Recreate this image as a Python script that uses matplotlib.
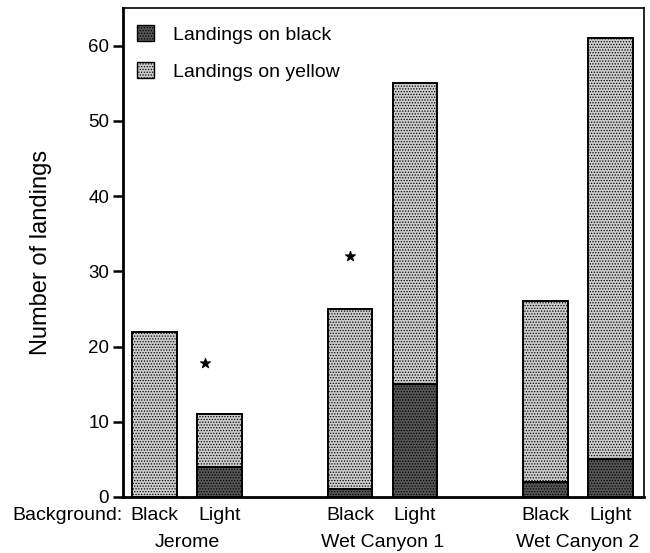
import numpy as np
import matplotlib
matplotlib.use("Agg")
import matplotlib.pyplot as plt
from matplotlib.patches import Patch
from matplotlib.transforms import blended_transform_factory

plt.rcParams["font.family"] = ["Liberation Sans", "DejaVu Sans"]
plt.rcParams["hatch.linewidth"] = 0.6

# data
sites = ["Jerome", "Wet Canyon 1", "Wet Canyon 2"]
backgrounds = ["Black", "Light", "Black", "Light", "Black", "Light"]
on_black = [0, 4, 1, 15, 2, 5]
on_yellow = [22, 7, 24, 40, 24, 56]
star_x = [0.77, 3.0]
star_y = [17.8, 32.0]

positions = np.array([0.0, 1.0, 3.0, 4.0, 6.0, 7.0])
width = 0.69

fig = plt.figure(figsize=(6.5, 5.53), dpi=100)
ax = fig.add_axes([0.1892, 0.1013, 0.8015, 0.884])

dark = "#555555"
light = "#cdcdcd"

plt.rcParams["hatch.color"] = "#1e1e1e"
ax.bar(positions, on_black, width, color=dark, edgecolor="black",
       linewidth=1.4, hatch="......")
plt.rcParams["hatch.color"] = "#8a8a8a"
ax.bar(positions, on_yellow, width, bottom=on_black, color=light,
       edgecolor="black", linewidth=1.4, hatch="......")

ax.scatter(star_x, star_y, marker="*", s=55, color="black", linewidths=0.8)

ax.set_xlim(-0.49, 7.52)
ax.set_ylim(0, 65)
ax.set_yticks(range(0, 61, 10))
ax.set_xticks([])
ax.tick_params(axis="y", direction="out", length=7, width=1.8, labelsize=13.5, pad=3)
for side in ["left", "bottom"]:
    ax.spines[side].set_linewidth(2)
for side in ["top", "right"]:
    ax.spines[side].set_linewidth(1.2)

ax.set_ylabel("Number of landings", fontsize=17)
ax.yaxis.set_label_coords(-0.136, 0.5)

trans = blended_transform_factory(ax.transData, ax.transAxes)
ax.text(-0.5, -0.037, "Background:", transform=trans, ha="right", va="center", fontsize=14)
for x, lab in zip(positions, backgrounds):
    ax.text(x, -0.037, lab, transform=trans, ha="center", va="center", fontsize=14)
for i, site in enumerate(sites):
    xc = positions[2 * i:2 * i + 2].mean()
    ax.text(xc, -0.094, site, transform=trans, ha="center", va="center", fontsize=14)

plt.rcParams["hatch.color"] = "#1e1e1e"
h1 = Patch(facecolor=dark, edgecolor="black", hatch="......", linewidth=1, label="Landings on black")
plt.rcParams["hatch.color"] = "#8a8a8a"
h2 = Patch(facecolor=light, edgecolor="black", hatch="......", linewidth=1, label="Landings on yellow")
ax.legend(handles=[h1, h2], loc="upper left", bbox_to_anchor=(0.027, 0.965),
          frameon=False, fontsize=14, handlelength=0.85, handleheight=0.85,
          handletextpad=1.0, labelspacing=0.95, borderaxespad=0, borderpad=0)

fig.savefig("out.png", dpi=100)
